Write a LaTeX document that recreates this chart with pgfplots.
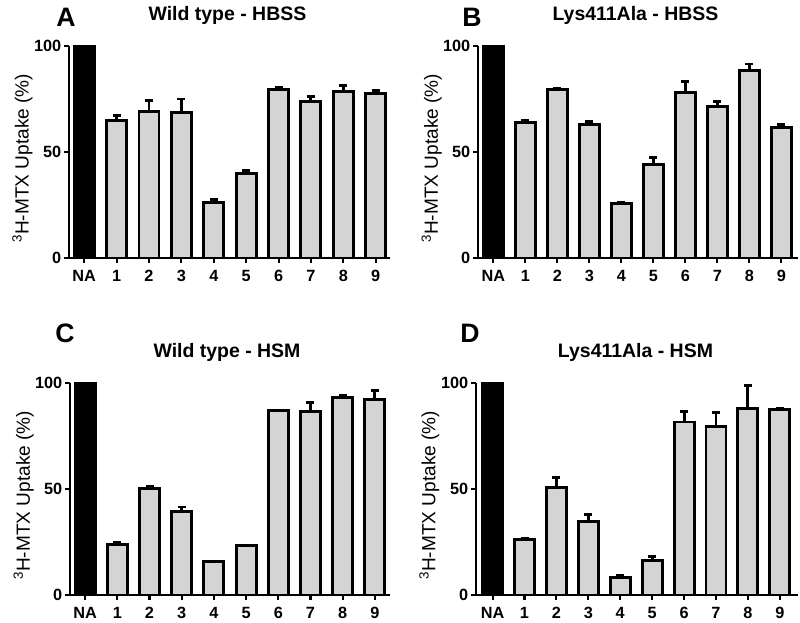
\documentclass[border=0pt]{standalone}
\usepackage{fontspec}
\setmainfont{Liberation Sans}
\usepackage{pgfplots}
\pgfplotsset{compat=1.18}
\definecolor{bargray}{RGB}{212,212,212}

\pgfplotsset{
  panel/.style={
    scale only axis, height=159pt,
    anchor=south west,
    ymin=0, ymax=100,
    clip=false,
    axis x line*=bottom, axis y line*=left,
    axis line style={line width=2.2pt, -},
    ytick={0,50,100},
    xtick={0,...,9},
    xticklabels={NA,1,2,3,4,5,6,7,8,9},
    tick align=outside,
    major tick length=3.6pt,
    tick style={line width=1.6pt, black},
    ticklabel style={font=\fontsize{12.2}{13}\selectfont\bfseries},
    yticklabel style={inner sep=2pt},
    xticklabel style={yshift=-2pt},
    /pgf/number format/assume math mode=true,
    ylabel={\textsuperscript{3}H-MTX Uptake (\%)},
    ylabel style={font=\fontsize{14.3}{15}\selectfont, at={(axis description cs:-0.145,0.47)}, anchor=center},
    ybar, bar shift=0pt, bar width=15pt,
  },
  nabar/.style={fill=black, draw=black, line width=2.2pt},
  gbar/.style={fill=bargray, draw=black, line width=2.2pt,
    error bars/.cd, y dir=plus, y explicit,
    error bar style={line width=2.2pt, black},
    error mark options={rotate=90, mark size=3pt, line width=2.2pt, black}},
}

\begin{document}
\begin{tikzpicture}
\useasboundingbox (0,0) rectangle (600pt,467.25pt);

% Panel A
\begin{axis}[panel, at={(51.75pt,273.75pt)}, width=240.75pt, xmin=-0.47, xmax=9.44]
\addplot[nabar] coordinates {(0,100)};
\addplot[gbar] table[x=x, y=y, y error=e] {
x y e
1 65.0 2.1
2 68.9 5.2
3 68.5 6.5
4 26.3 1.4
5 39.9 1.4
6 79.4 0.8
7 73.6 2.4
8 78.7 2.6
9 77.4 1.4
};
\end{axis}

% Panel B
\begin{axis}[panel, at={(358.5pt,273.75pt)}, width=240pt, xmin=-0.48, xmax=9.52]
\addplot[nabar] coordinates {(0,100)};
\addplot[gbar] table[x=x, y=y, y error=e] {
x y e
1 63.8 0.9
2 79.4 0.5
3 63.1 1.1
4 25.5 0.5
5 44.0 3.3
6 77.9 5.5
7 71.6 2.4
8 88.5 3.0
9 61.6 1.5
};
\end{axis}

% Panel C
\begin{axis}[panel, at={(52.5pt,21pt)}, width=240pt, xmin=-0.47, xmax=9.47]
\addplot[nabar] coordinates {(0,100)};
\addplot[gbar] table[x=x, y=y, y error=e] {
x y e
1 24.0 0.7
2 50.3 1.1
3 39.6 1.9
4 16.0 0
5 23.3 0
6 87.1 0
7 86.5 4.5
8 93.1 1.2
9 92.3 4.1
};
\end{axis}

% Panel D
\begin{axis}[panel, at={(357pt,21pt)}, width=241.5pt, xmin=-0.52, xmax=9.57]
\addplot[nabar] coordinates {(0,100)};
\addplot[gbar] table[x=x, y=y, y error=e] {
x y e
1 26.0 0.8
2 50.9 4.4
3 34.5 3.4
4 8.3 1.1
5 16.1 2.2
6 81.6 4.9
7 79.4 6.9
8 87.9 10.8
9 87.7 0.2
};
\end{axis}

% Panel letters and titles
\node[anchor=base west, font=\fontsize{20}{22}\selectfont\bfseries, inner sep=0pt] at (42pt,447pt) {A};
\node[anchor=base west, font=\fontsize{20}{22}\selectfont\bfseries, inner sep=0pt] at (346.5pt,447pt) {B};
\node[anchor=base west, font=\fontsize{20}{22}\selectfont\bfseries, inner sep=0pt] at (41.25pt,210pt) {C};
\node[anchor=base west, font=\fontsize{20}{22}\selectfont\bfseries, inner sep=0pt] at (345pt,210pt) {D};

\node[anchor=base, font=\fontsize{14.6}{16}\selectfont\bfseries, inner sep=0pt] at (170.6pt,451.5pt) {Wild type - HBSS};
\node[anchor=base, font=\fontsize{14.6}{16}\selectfont\bfseries, inner sep=0pt] at (476.6pt,451.5pt) {Lys411Ala - HBSS};
\node[anchor=base, font=\fontsize{14.6}{16}\selectfont\bfseries, inner sep=0pt] at (170.25pt,198.75pt) {Wild type - HSM};
\node[anchor=base, font=\fontsize{14.6}{16}\selectfont\bfseries, inner sep=0pt] at (476.6pt,198.75pt) {Lys411Ala - HSM};
\end{tikzpicture}
\end{document}
